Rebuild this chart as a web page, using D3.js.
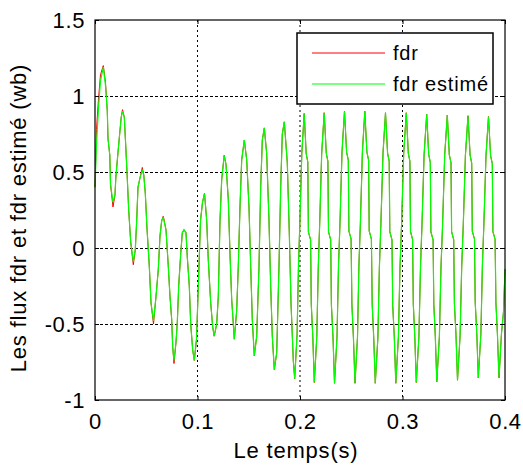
<!DOCTYPE html>
<html>
<head>
<meta charset="utf-8">
<script src="https://cdn.jsdelivr.net/npm/d3@7"></script>
<style>
  body { margin: 0; background: #fff; }
  text { font-family: "Liberation Sans", Arial, sans-serif; fill: #000; }
</style>
</head>
<body>
<div id="chart"></div>
<script>
// time axis (s)
const temps = [
  0, 0.00146, 0.00341, 0.00537, 0.00810, 0.01024, 0.01200, 0.01268, 0.01444, 0.01512,
  0.01756, 0.01951, 0.02029, 0.02244, 0.02556, 0.02683, 0.02859, 0.02956, 0.03122, 0.03288,
  0.03483, 0.03737, 0.03932, 0.04068, 0.04195, 0.04420, 0.04615, 0.04761, 0.04907, 0.05073,
  0.05298, 0.05463, 0.05707, 0.05951, 0.06176, 0.06341, 0.06507, 0.06663, 0.06927, 0.07151,
  0.07317, 0.07483, 0.07580, 0.07707, 0.07902, 0.08029, 0.08166, 0.08361, 0.08517, 0.08683,
  0.08878, 0.09005, 0.09200, 0.09337, 0.09532, 0.09688, 0.09902, 0.10000, 0.10146, 0.10293,
  0.10488, 0.10683, 0.10898, 0.11054, 0.11288, 0.11483, 0.11629, 0.11873, 0.12029, 0.12195,
  0.12361, 0.12605, 0.12780, 0.13005, 0.13171, 0.13337, 0.13590, 0.13824, 0.13980, 0.14146,
  0.14312, 0.14566, 0.14800, 0.15024, 0.15190, 0.15346, 0.15541, 0.15776, 0.16000, 0.16166,
  0.16322, 0.16517, 0.16751, 0.16976, 0.17141, 0.17298, 0.17493, 0.17727, 0.17951, 0.18117,
  0.18273, 0.18468, 0.18761, 0.18956, 0.19122, 0.19346, 0.19483,
  0.19717, 0.19854, 0.19990, 0.20176, 0.20410, 0.20605, 0.20761, 0.20820, 0.21034, 0.21102, 0.21249, 0.21395,
  0.21639, 0.21785, 0.21922, 0.22117, 0.22361, 0.22566, 0.22722, 0.22780, 0.22995, 0.23063, 0.23220, 0.23366,
  0.23610, 0.23756, 0.23902, 0.24098, 0.24341, 0.24546, 0.24712, 0.24771, 0.24985, 0.25063, 0.25210, 0.25366,
  0.25610, 0.25746, 0.25893, 0.26088, 0.26322, 0.26527, 0.26693, 0.26751, 0.26966, 0.27044, 0.27190, 0.27346,
  0.27600, 0.27746, 0.27893, 0.28098, 0.28341, 0.28546, 0.28702, 0.28761, 0.28976, 0.29044, 0.29200, 0.29346,
  0.29600, 0.29756, 0.29912, 0.30117, 0.30371, 0.30566, 0.30722, 0.30780, 0.30985, 0.31054, 0.31200, 0.31346,
  0.31600, 0.31756, 0.31902, 0.32107, 0.32361, 0.32556, 0.32712, 0.32771, 0.32985, 0.33054, 0.33200, 0.33346,
  0.33600, 0.33756, 0.33912, 0.34117, 0.34371, 0.34566, 0.34732, 0.34790, 0.34995, 0.35063, 0.35220, 0.35366,
  0.35620, 0.35776, 0.35932, 0.36137, 0.36390, 0.36595, 0.36751, 0.36810, 0.37024, 0.37093, 0.37249, 0.37395,
  0.37649, 0.37795, 0.37941, 0.38146, 0.38390, 0.38595, 0.38761, 0.38820, 0.39034, 0.39112, 0.39259, 0.39415,
  0.39659, 0.39854, 0.40000
];

// estimated flux (green)
const fdrEstime = [
  0.40, 0.68, 0.92, 1.10, 1.19, 1.07, 0.90, 0.72, 0.61, 0.42,
  0.30, 0.35, 0.46, 0.63, 0.86, 0.90, 0.86, 0.73, 0.50, 0.25,
  0.04, -0.09, -0.01, 0.18, 0.40, 0.47, 0.51, 0.48, 0.36, 0.13,
  -0.12, -0.36, -0.48, -0.32, -0.14, 0.08, 0.18, 0.20, 0.12, -0.12,
  -0.32, -0.47, -0.65, -0.74, -0.62, -0.49, -0.25, -0.04, 0.10, 0.12,
  0.10, -0.06, -0.25, -0.50, -0.67, -0.74, -0.60, -0.41, -0.12, 0.18,
  0.30, 0.36, 0.18, -0.08, -0.36, -0.52, -0.58, -0.50, -0.32, 0.18,
  0.45, 0.61, 0.55, 0.32, -0.04, -0.34, -0.60, -0.41, -0.12, 0.27,
  0.58, 0.71, 0.58, 0.27, -0.12, -0.47, -0.71, -0.58, -0.12, 0.40,
  0.71, 0.79, 0.62, 0.18, -0.25, -0.58, -0.80, -0.69, -0.12, 0.40,
  0.75, 0.83, 0.56, 0.10, -0.36, -0.74, -0.86,
  -0.563, -0.110, 0.170, 0.623, 0.885, 0.620, 0.566, 0.106, 0.053, -0.372, -0.584, -0.885,
  -0.583, -0.122, 0.162, 0.624, 0.890, 0.623, 0.570, 0.107, 0.053, -0.374, -0.587, -0.890,
  -0.586, -0.120, 0.166, 0.632, 0.900, 0.631, 0.578, 0.112, 0.059, -0.371, -0.586, -0.890,
  -0.586, -0.120, 0.166, 0.632, 0.900, 0.631, 0.578, 0.112, 0.059, -0.371, -0.586, -0.890,
  -0.587, -0.125, 0.160, 0.623, 0.890, 0.623, 0.570, 0.107, 0.053, -0.374, -0.587, -0.890,
  -0.587, -0.125, 0.160, 0.623, 0.890, 0.624, 0.570, 0.109, 0.056, -0.370, -0.583, -0.885,
  -0.585, -0.126, 0.156, 0.615, 0.880, 0.616, 0.563, 0.106, 0.053, -0.370, -0.581, -0.880,
  -0.582, -0.125, 0.155, 0.612, 0.875, 0.613, 0.561, 0.107, 0.055, -0.364, -0.573, -0.870,
  -0.574, -0.122, 0.157, 0.609, 0.870, 0.611, 0.559, 0.111, 0.059, -0.355, -0.562, -0.855,
  -0.563, -0.115, 0.160, 0.607, 0.865, 0.607, 0.555, 0.108, 0.057, -0.356, -0.563, -0.855,
  -0.56, -0.42, -0.14
];

// real flux (red)
const fdr = [
  0.40, 0.78, 0.98, 1.14, 1.20, 1.09, 0.90, 0.72, 0.61, 0.42,
  0.27, 0.35, 0.46, 0.63, 0.86, 0.91, 0.86, 0.73, 0.50, 0.25,
  0.04, -0.11, -0.01, 0.18, 0.40, 0.47, 0.53, 0.48, 0.36, 0.13,
  -0.12, -0.36, -0.50, -0.32, -0.14, 0.08, 0.18, 0.21, 0.12, -0.12,
  -0.32, -0.47, -0.65, -0.76, -0.62, -0.49, -0.25, -0.04, 0.10, 0.12,
  0.10, -0.06, -0.25, -0.50, -0.67, -0.74, -0.60, -0.41, -0.12, 0.18,
  0.30, 0.36, 0.18, -0.08, -0.36, -0.52, -0.58, -0.50, -0.32, 0.18,
  0.45, 0.61, 0.55, 0.32, -0.04, -0.34, -0.60, -0.41, -0.12, 0.27,
  0.58, 0.71, 0.58, 0.27, -0.12, -0.47, -0.71, -0.58, -0.12, 0.40,
  0.71, 0.79, 0.62, 0.18, -0.25, -0.58, -0.80, -0.69, -0.12, 0.40,
  0.75, 0.83, 0.56, 0.10, -0.36, -0.74, -0.86,
  -0.563, -0.110, 0.170, 0.623, 0.885, 0.620, 0.566, 0.106, 0.053, -0.372, -0.584, -0.885,
  -0.583, -0.122, 0.162, 0.624, 0.890, 0.623, 0.570, 0.107, 0.053, -0.374, -0.587, -0.890,
  -0.586, -0.120, 0.166, 0.632, 0.900, 0.631, 0.578, 0.112, 0.059, -0.371, -0.586, -0.890,
  -0.586, -0.120, 0.166, 0.632, 0.900, 0.631, 0.578, 0.112, 0.059, -0.371, -0.586, -0.890,
  -0.587, -0.125, 0.160, 0.623, 0.890, 0.623, 0.570, 0.107, 0.053, -0.374, -0.587, -0.890,
  -0.587, -0.125, 0.160, 0.623, 0.890, 0.624, 0.570, 0.109, 0.056, -0.370, -0.583, -0.885,
  -0.585, -0.126, 0.156, 0.615, 0.880, 0.616, 0.563, 0.106, 0.053, -0.370, -0.581, -0.880,
  -0.582, -0.125, 0.155, 0.612, 0.875, 0.613, 0.561, 0.107, 0.055, -0.364, -0.573, -0.870,
  -0.574, -0.122, 0.157, 0.609, 0.870, 0.611, 0.559, 0.111, 0.059, -0.355, -0.562, -0.855,
  -0.563, -0.115, 0.160, 0.607, 0.865, 0.607, 0.555, 0.108, 0.057, -0.356, -0.563, -0.855,
  -0.56, -0.42, -0.14
];

const xTicks = [0, 0.1, 0.2, 0.3, 0.4];
const xTickLabels = ["0", "0.1", "0.2", "0.3", "0.4"];
const yTicks = [-1, -0.5, 0, 0.5, 1, 1.5];
const yTickLabels = ["-1", "-0.5", "0", "0.5", "1", "1.5"];
const seriesNames = ["fdr", "fdr estimé"];
const seriesColors = ["#ff0000", "#00ff00"];

const F_WIDTH = 523;
const F_HEIGHT = 470;
const MARGINS = {left: 95, right: 18, top: 20, bottom: 70};
const VIS_WIDTH = F_WIDTH - MARGINS.left - MARGINS.right;
const VIS_HEIGHT = F_HEIGHT - MARGINS.top - MARGINS.bottom;

const FRAME = d3.select("#chart")
  .append("svg")
    .attr("width", F_WIDTH)
    .attr("height", F_HEIGHT);

const X_SCALE = d3.scaleLinear().domain([0, 0.4]).range([0, VIS_WIDTH]);
const Y_SCALE = d3.scaleLinear().domain([-1, 1.5]).range([VIS_HEIGHT, 0]);

const PLOT = FRAME.append("g")
  .attr("transform", "translate(" + MARGINS.left + "," + MARGINS.top + ")");

// dotted grid
PLOT.append("g")
  .selectAll("line")
  .data(xTicks.slice(1, -1))
  .enter()
  .append("line")
    .attr("x1", d => X_SCALE(d)).attr("x2", d => X_SCALE(d))
    .attr("y1", 0).attr("y2", VIS_HEIGHT)
    .attr("stroke", "#000")
    .attr("stroke-dasharray", "2,3");

PLOT.append("g")
  .selectAll("line")
  .data(yTicks.slice(1, -1))
  .enter()
  .append("line")
    .attr("x1", 0).attr("x2", VIS_WIDTH)
    .attr("y1", d => Math.round(Y_SCALE(d)) + 0.5).attr("y2", d => Math.round(Y_SCALE(d)) + 0.5)
    .attr("stroke", "#000")
    .attr("stroke-dasharray", "3,2");

// series
const rows = temps.map((t, i) => ({t: t, a: fdr[i], b: fdrEstime[i]}));

const lineA = d3.line().x(d => X_SCALE(d.t)).y(d => Y_SCALE(d.a));
const lineB = d3.line().x(d => X_SCALE(d.t)).y(d => Y_SCALE(d.b));

PLOT.append("path")
  .datum(rows)
  .attr("d", lineA)
  .attr("fill", "none")
  .attr("stroke", seriesColors[0])
  .attr("stroke-width", 1);

PLOT.append("path")
  .datum(rows)
  .attr("d", lineB)
  .attr("fill", "none")
  .attr("stroke", seriesColors[1])
  .attr("stroke-width", 1.2);

// axes with inward ticks
PLOT.append("g")
  .attr("transform", "translate(0," + VIS_HEIGHT + ")")
  .call(d3.axisBottom(X_SCALE).tickValues(xTicks)
    .tickFormat((d, i) => xTickLabels[i])
    .tickSizeInner(-4).tickSizeOuter(0).tickPadding(13));

PLOT.append("g")
  .call(d3.axisLeft(Y_SCALE).tickValues(yTicks)
    .tickFormat((d, i) => yTickLabels[i])
    .tickSizeInner(-4).tickSizeOuter(0).tickPadding(10));

PLOT.append("g")
  .call(d3.axisTop(X_SCALE).tickValues(xTicks).tickFormat("")
    .tickSizeInner(-4).tickSizeOuter(0));

PLOT.append("g")
  .attr("transform", "translate(" + VIS_WIDTH + ",0)")
  .call(d3.axisRight(Y_SCALE).tickValues(yTicks).tickFormat("")
    .tickSizeInner(-4).tickSizeOuter(0));

PLOT.selectAll(".domain").remove();
PLOT.selectAll(".tick line").attr("stroke", "#000");
PLOT.selectAll(".tick text")
  .attr("font-size", 22)
  .attr("font-family", "Liberation Sans, Arial, sans-serif")
  .attr("letter-spacing", 0.6)
  .attr("fill", "#000");

// box
PLOT.append("rect")
  .attr("x", 0).attr("y", 0)
  .attr("width", VIS_WIDTH).attr("height", VIS_HEIGHT)
  .attr("fill", "none")
  .attr("stroke", "#000")
  .attr("stroke-width", 1.2);

// legend
const LEGEND = PLOT.append("g").attr("transform", "translate(202,13)");

LEGEND.append("rect")
  .attr("x", 0).attr("y", 0)
  .attr("width", 196).attr("height", 71)
  .attr("fill", "#fff")
  .attr("stroke", "#000")
  .attr("stroke-width", 1.5);

seriesNames.forEach((name, i) => {
  const yy = 20 + i * 31;
  LEGEND.append("line")
    .attr("x1", 15).attr("x2", 88)
    .attr("y1", yy).attr("y2", yy)
    .attr("stroke", seriesColors[i])
    .attr("stroke-width", 1.2);
  LEGEND.append("text")
    .attr("x", 96).attr("y", yy)
    .attr("dy", "0.35em")
    .attr("font-size", 20)
    .attr("letter-spacing", 0.8)
    .text(name);
});

// axis titles
FRAME.append("text")
  .attr("x", MARGINS.left + VIS_WIDTH / 2 - 4)
  .attr("y", 458)
  .attr("text-anchor", "middle")
  .attr("font-size", 22)
  .attr("letter-spacing", 0.8)
  .text("Le temps(s)");

FRAME.append("text")
  .attr("transform", "translate(26," + (MARGINS.top + VIS_HEIGHT / 2 + 8) + ") rotate(-90)")
  .attr("text-anchor", "middle")
  .attr("font-size", 22)
  .attr("letter-spacing", 0.8)
  .text("Les flux fdr et fdr estimé (wb)");
</script>
</body>
</html>
